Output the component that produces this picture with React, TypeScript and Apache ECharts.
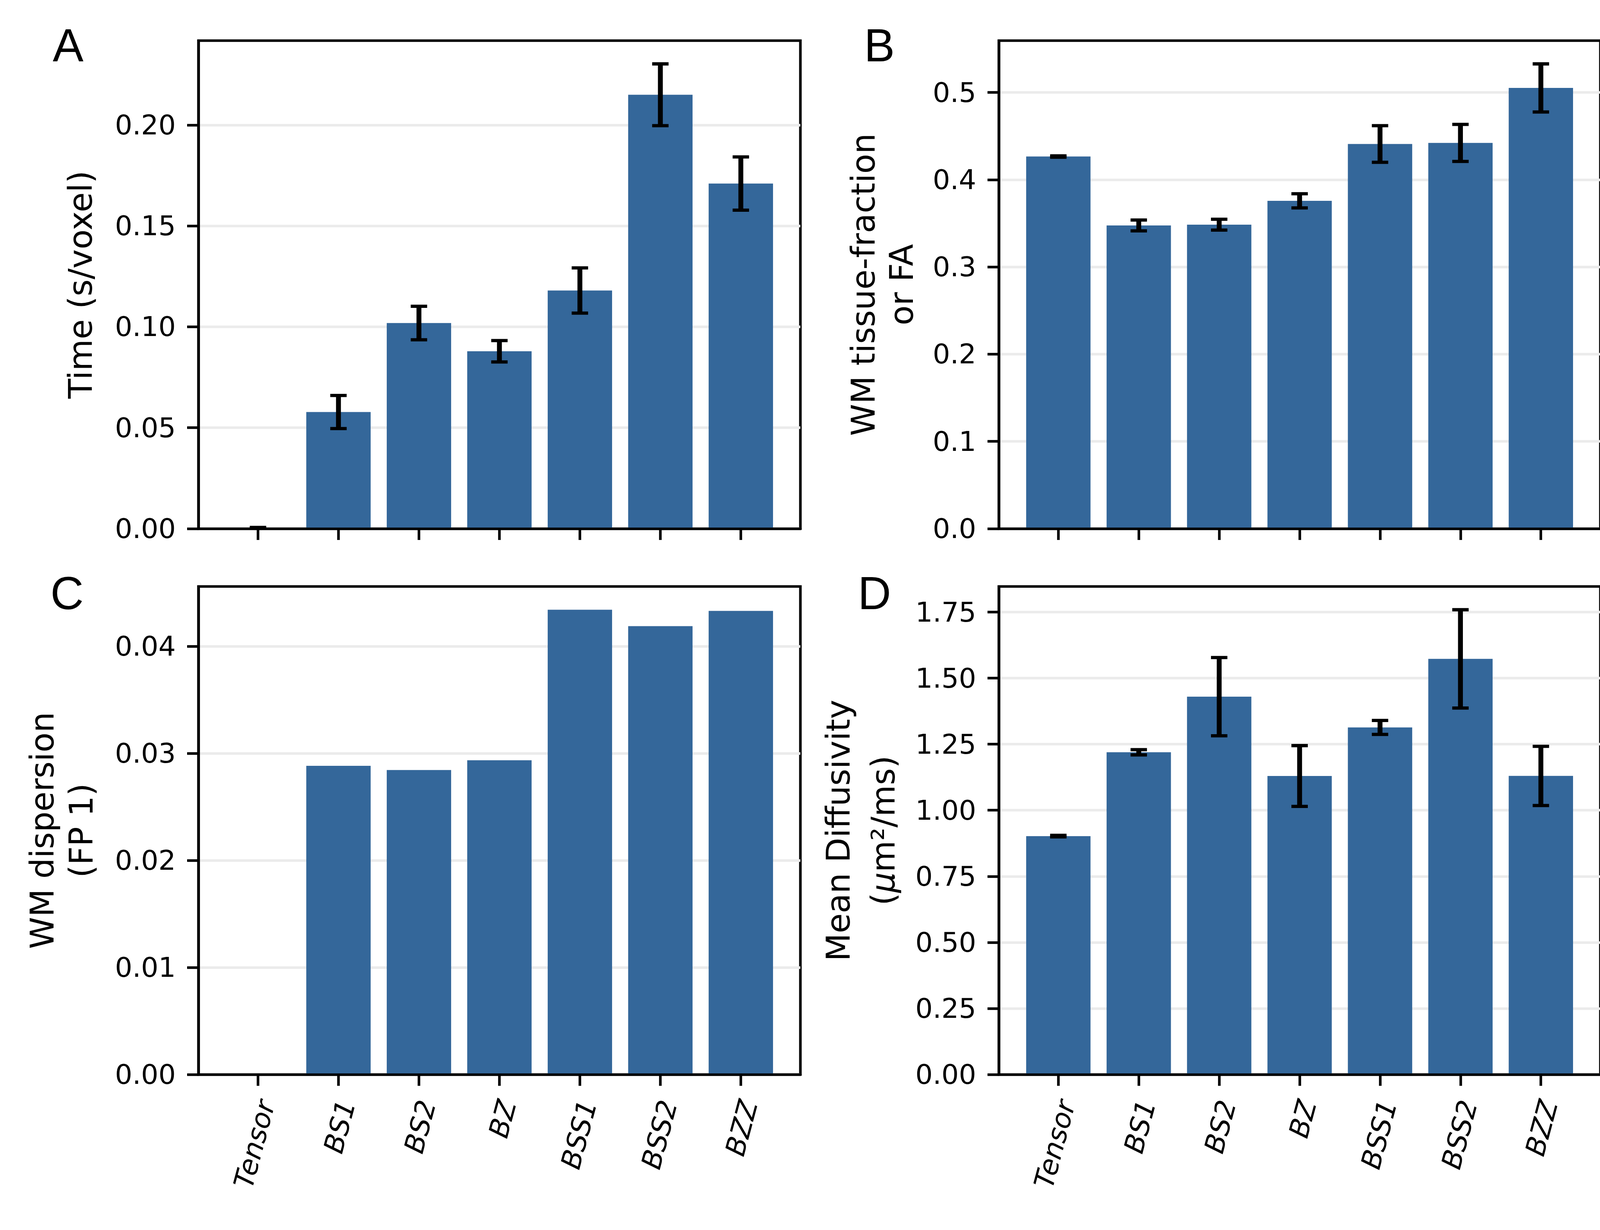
import React, { useEffect, useRef } from 'react';
import * as echarts from 'echarts';

// ---------- data ----------
const categories = ['Tensor', 'BS1', 'BS2', 'BZ', 'BSS1', 'BSS2', 'BZZ'];
const categoryTicks = [0, 1, 2, 3, 4, 5, 6];

const timeMean = [0.0004, 0.0578, 0.1019, 0.0879, 0.118, 0.215, 0.171];
const timeErr = [0.0002, 0.0082, 0.0083, 0.0053, 0.0112, 0.0153, 0.0132];
const timeTicks = [0, 0.05, 0.1, 0.15, 0.2];

const wmFracMean = [0.4266, 0.3476, 0.3485, 0.3758, 0.441, 0.4422, 0.5052];
const wmFracErr = [0.0008, 0.0062, 0.0062, 0.0081, 0.021, 0.0212, 0.0276];
const wmFracTicks = [0, 0.1, 0.2, 0.3, 0.4, 0.5];

const dispersionMean = [0, 0.02884, 0.02845, 0.02936, 0.04343, 0.0419, 0.04332];
const dispersionTicks = [0, 0.01, 0.02, 0.03, 0.04];

const mdMean = [0.9022, 1.2195, 1.43, 1.1297, 1.3135, 1.573, 1.13];
const mdErr = [0.003, 0.01, 0.148, 0.115, 0.0265, 0.186, 0.112];
const mdTicks = [0, 0.25, 0.5, 0.75, 1.0, 1.25, 1.5, 1.75];

// ---------- style ----------
const BAR_COLOR = '#34679a';
const GRID_COLOR = '#ebebeb';
const LW = 6.67;
const FONT = 'DejaVu Sans';
const TICK_FS = 70;
const LABEL_FS = 83;

type Panel = {
  letter: string;
  letterX: number;
  letterY: number;
  grid: { left: number; top: number; width: number; height: number };
  mean: number[];
  err: number[] | null;
  ticks: number[];
  interval: number;
  decimals: number;
  name: string;
  nameGap: number;
  lineHeight: number;
  xLabels: boolean;
};

const panels: Panel[] = [
  {
    letter: 'A', letterX: 135, letterY: 116,
    grid: { left: 508, top: 104, width: 1541, height: 1249 },
    mean: timeMean, err: timeErr, ticks: timeTicks, interval: 0.05, decimals: 2,
    name: 'Time (s/voxel)', nameGap: 254, lineHeight: 95, xLabels: false,
  },
  {
    letter: 'B', letterX: 2212, letterY: 116,
    grid: { left: 2557, top: 104, width: 1540, height: 1249 },
    mean: wmFracMean, err: wmFracErr, ticks: wmFracTicks, interval: 0.1, decimals: 1,
    name: 'WM tissue-fraction\nor FA', nameGap: 200, lineHeight: 98, xLabels: false,
  },
  {
    letter: 'C', letterX: 129, letterY: 1518,
    grid: { left: 508, top: 1501, width: 1541, height: 1249 },
    mean: dispersionMean, err: null, ticks: dispersionTicks, interval: 0.01, decimals: 2,
    name: 'WM dispersion\n(FP 1)', nameGap: 250, lineHeight: 100, xLabels: true,
  },
  {
    letter: 'D', letterX: 2196, letterY: 1518,
    grid: { left: 2557, top: 1501, width: 1540, height: 1249 },
    mean: mdMean, err: mdErr, ticks: mdTicks, interval: 0.25, decimals: 2,
    name: 'Mean Diffusivity\n({mu|μ}m²/ms)', nameGap: 238, lineHeight: 115, xLabels: true,
  },
];

function buildOption() {
  const grid: any[] = [];
  const xAxis: any[] = [];
  const yAxis: any[] = [];
  const series: any[] = [];
  const graphic: any[] = [];

  panels.forEach((p, i) => {
    grid.push({
      ...p.grid,
      show: true,
      borderColor: '#000',
      borderWidth: LW,
      backgroundColor: 'transparent',
      containLabel: false,
    });

    xAxis.push({
      type: 'value',
      gridIndex: i,
      min: -0.74,
      max: 6.74,
      z: 5,
      splitLine: { show: false },
      axisLine: { show: true, onZero: false, lineStyle: { color: '#000', width: LW } },
      axisTick: {
        show: true,
        customValues: categoryTicks,
        length: 29,
        lineStyle: { color: '#000', width: LW },
      },
      axisLabel: {
        show: p.xLabels,
        customValues: categoryTicks,
        formatter: (v: number) => categories[Math.round(v)] ?? '',
        rotate: 75,
        fontStyle: 'italic',
        fontFamily: FONT,
        fontSize: TICK_FS,
        color: '#000',
        margin: 62,
        align: 'right',
        verticalAlign: 'top',
        lineHeight: 43,
      },
    });

    const top = Math.max(...p.mean.map((v, k) => v + (p.err ? p.err[k] : 0))) * 1.05;

    yAxis.push({
      type: 'value',
      gridIndex: i,
      min: 0,
      max: top,
      interval: p.interval,
      axisLine: { show: true, onZero: false, lineStyle: { color: '#000', width: LW } },
      axisTick: {
        show: true,
        customValues: p.ticks,
        length: 29,
        lineStyle: { color: '#000', width: LW },
      },
      axisLabel: {
        show: true,
        customValues: p.ticks,
        formatter: (v: number) => v.toFixed(p.decimals),
        fontFamily: FONT,
        fontSize: TICK_FS,
        color: '#000',
        margin: 58,
      },
      splitLine: { show: true, lineStyle: { color: GRID_COLOR, width: LW } },
      name: p.name,
      nameLocation: 'middle',
      nameRotate: 90,
      nameGap: p.nameGap,
      nameTextStyle: {
        fontFamily: FONT,
        fontSize: LABEL_FS,
        color: '#000',
        lineHeight: p.lineHeight,
        align: 'center',
        rich: {
          mu: {
            fontFamily: FONT,
            fontSize: LABEL_FS,
            fontStyle: 'italic',
            color: '#000',
            lineHeight: p.lineHeight,
          },
        },
      },
    });

    series.push({
      type: 'custom',
      name: p.letter + '-bars',
      xAxisIndex: i,
      yAxisIndex: i,
      z: 2,
      data: p.mean.map((v, k) => [k, v]),
      encode: { x: 0, y: 1 },
      renderItem: (_params: any, api: any) => {
        const x = api.value(0) as number;
        const y = api.value(1) as number;
        const tl = api.coord([x - 0.4, y]);
        const br = api.coord([x + 0.4, 0]);
        return {
          type: 'rect',
          shape: { x: tl[0], y: tl[1], width: br[0] - tl[0], height: br[1] - tl[1] },
          style: { fill: BAR_COLOR },
        };
      },
    });

    if (p.err) {
      const err = p.err;
      series.push({
        type: 'custom',
        name: p.letter + '-err',
        xAxisIndex: i,
        yAxisIndex: i,
        z: 3,
        data: p.mean.map((v, k) => [k, v - err[k], v + err[k]]),
        encode: { x: 0, y: [1, 2] },
        renderItem: (_params: any, api: any) => {
          const x = api.value(0) as number;
          const lo = api.value(1) as number;
          const hi = api.value(2) as number;
          const a = api.coord([x, hi]);
          const b = api.coord([x, lo]);
          const cap = 21;
          return {
            type: 'group',
            children: [
              { type: 'line', shape: { x1: a[0], y1: a[1], x2: b[0], y2: b[1] }, style: { stroke: '#000', lineWidth: 12.5 } },
              { type: 'line', shape: { x1: a[0] - cap, y1: a[1], x2: a[0] + cap, y2: a[1] }, style: { stroke: '#000', lineWidth: 8.3 } },
              { type: 'line', shape: { x1: b[0] - cap, y1: b[1], x2: b[0] + cap, y2: b[1] }, style: { stroke: '#000', lineWidth: 8.3 } },
            ],
          };
        },
      });
    }

    graphic.push({
      type: 'text',
      x: p.letterX,
      y: p.letterY,
      style: {
        text: p.letter,
        fontFamily: 'Liberation Sans',
        fontSize: 118,
        fill: '#000',
        align: 'left',
        verticalAlign: 'middle',
      },
    });
  });

  return {
    animation: false,
    backgroundColor: '#ffffff',
    grid,
    xAxis,
    yAxis,
    series,
    graphic,
  };
}

export default function App() {
  const ref = useRef<HTMLDivElement>(null);
  useEffect(() => {
    if (!ref.current) return;
    const chart = echarts.init(ref.current, undefined, { renderer: 'svg' });
    chart.setOption(buildOption() as any);
    return () => chart.dispose();
  }, []);
  return (
    <div
      ref={ref}
      style={{ position: 'absolute', left: 0, top: 0, width: 4200, height: 3148, background: '#fff' }}
    />
  );
}
